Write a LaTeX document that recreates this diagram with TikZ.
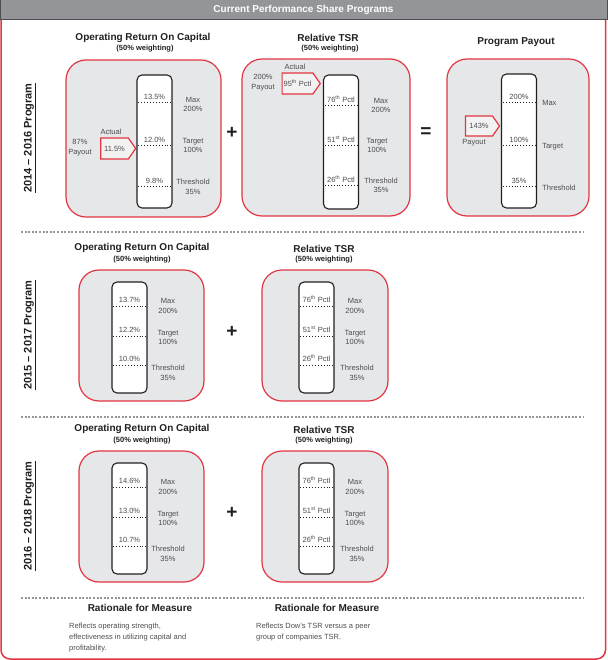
\documentclass[tikz,border=0pt]{standalone}
\usepackage{fontspec}
\setmainfont{Liberation Sans}
\usepackage{xcolor}
\usepackage{tikz}
\usetikzlibrary{calc,shapes.symbols,positioning}
\definecolor{DowRed}{RGB}{226, 54, 66}
\definecolor{PanelGray}{RGB}{230, 231, 232}
\definecolor{TagFill}{RGB}{242, 242, 243}
\definecolor{HeadGray}{RGB}{147, 149, 152}
\definecolor{HeadEdge}{RGB}{77, 77, 79}
\definecolor{InkBlack}{RGB}{35, 31, 32}
\definecolor{TextGray}{RGB}{77, 77, 79}
\definecolor{DotGray}{RGB}{150, 150, 153}

\begin{document}
\begin{tikzpicture}[x=1pt, y=-1pt,
    headbar/.style={draw=HeadEdge, fill=HeadGray, line width=1pt, minimum width=607pt, minimum height=20pt, text=white, font=\bfseries\fontsize{10}{12}\selectfont},
    panel/.style={draw=DowRed, fill=PanelGray, line width=1.2pt, rounded corners=20pt},
    gauge/.style={draw=InkBlack, fill=white, line width=1.1pt, rounded corners=5pt, minimum width=35pt},
    cutline/.style={InkBlack, line width=0.9pt, dotted, shorten <=2pt, shorten >=2pt},
    val/.style={text=TextGray, font=\fontsize{7.5}{9}\selectfont, inner sep=0pt},
    lbl/.style={text=TextGray, font=\fontsize{7.5}{9.5}\selectfont, align=center, inner sep=0pt},
    heading/.style={text=InkBlack, font=\bfseries\fontsize{10}{12}\selectfont, inner sep=0pt},
    weighting/.style={text=InkBlack, font=\bfseries\fontsize{7.5}{9}\selectfont, inner sep=0pt},
    actualtag/.style={signal, signal to=east, signal pointer angle=110, draw=DowRed, fill=TagFill, line width=1.2pt, minimum height=21pt, inner xsep=1.5pt, inner ysep=1pt, text=TextGray, font=\fontsize{7.5}{9}\selectfont},
    yearlbl/.style={rotate=90, text=InkBlack, font=\bfseries\fontsize{11}{12}\selectfont, inner sep=0pt},
    opsign/.style={text=InkBlack, font=\bfseries\fontsize{19}{19}\selectfont, inner sep=0pt},
    divider/.style={DotGray, line width=2pt, dash pattern=on 2pt off 1.6pt},
    bodytext/.style={text=TextGray, font=\fontsize{7.5}{11}\selectfont, align=left, inner sep=0pt}]
    \useasboundingbox (0,0) rectangle (607,660);
    % frame and header
    \draw[DowRed, line width=1.5pt, rounded corners=9pt] (1,20) -- (1,659) -- (605.5,659) -- (605.5,20);
    \node[headbar] (head) at (303.5,10) {Current Performance Share Programs};

    % 2014 - 2016 program
    \node[yearlbl] (yr1) at (30,138) {\underline{2014 -- 2016 Program}};
    \node[heading] (orchead1) at (143,38) {Operating Return On Capital};
    \node[weighting] (orcwt1) at (145,49) {(50\% weighting)};
    \node[panel, minimum width=155pt, minimum height=157pt] (orc1) at (143.5,138.5) {};
    \node[gauge, minimum height=133pt] (orcbar1) at (154.5,141.5) {};
    \foreach \d/\v [count=\i] in {28/13.5, 71/12.0, 112/9.8} {
        \draw[cutline] ($(orcbar1.north west)+(0,\d)$) -- ($(orcbar1.north east)+(0,\d)$);
        \node[val] (orcv1-\i) at ($(orcbar1.north)+(0,\d-6)$) {\v\%};
    }
    \node[lbl] (orcmax1) at (193,104.5) {Max\\200\%};
    \node[lbl] (orctgt1) at (193,145.5) {Target\\100\%};
    \node[lbl] (orcthr1) at (193,187) {Threshold\\35\%};
    \node[actualtag, minimum width=35pt] (orcact1) at (114.5,148.5) {11.5\%};
    \node[val] (orcactlbl1) at (111,132) {Actual};
    \node[lbl] (orcpay1) at (80,147.5) {87\%\\Payout};
    \node[opsign] (plus1) at (232,133) {+};

    \node[heading] (tsrhead1) at (328,38) {Relative TSR};
    \node[weighting] (tsrwt1) at (330,49) {(50\% weighting)};
    \node[panel, minimum width=168pt, minimum height=157pt] (tsr1) at (326,137.5) {};
    \node[gauge, minimum height=134pt] (tsrbar1) at (341,142) {};
    \foreach \d/\v/\s [count=\i] in {31/76/th, 71/51/st, 111/26/th} {
        \draw[cutline] ($(tsrbar1.north west)+(0,\d)$) -- ($(tsrbar1.north east)+(0,\d)$);
        \node[val] (tsrv1-\i) at ($(tsrbar1.north)+(0,\d-6)$) {\v\textsuperscript{\s} Pctl};
    }
    \node[lbl] (tsrmax1) at (381,105.5) {Max\\200\%};
    \node[lbl] (tsrtgt1) at (377,145.5) {Target\\100\%};
    \node[lbl] (tsrthr1) at (381,185.5) {Threshold\\35\%};
    \node[actualtag, minimum width=38pt] (tsract1) at (297.5,83.5) {95\textsuperscript{th} Pctl};
    \node[val] (tsractlbl1) at (295,67) {Actual};
    \node[lbl] (tsrpay1) at (263,82.5) {200\%\\Payout};
    \node[opsign] (equals1) at (426,133) {=};

    \node[heading] (payhead) at (516,42) {Program Payout};
    \node[panel, minimum width=142pt, minimum height=157pt] (pay) at (518,137.5) {};
    \node[gauge, minimum height=134pt] (paybar) at (519,141) {};
    \foreach \d/\v/\t [count=\i] in {29/200/Max, 72/100/Target, 113/35/Threshold} {
        \draw[cutline] ($(paybar.north west)+(0,\d)$) -- ($(paybar.north east)+(0,\d)$);
        \node[val] (payv-\i) at ($(paybar.north)+(0,\d-6)$) {\v\%};
        \node[lbl, anchor=west] (payl-\i) at ($(paybar.north east)+(5,\d+1)$) {\t};
    }
    \node[actualtag, minimum width=34pt, minimum height=20pt] (payact) at (479,126) {143\%};
    \node[val] (payactlbl) at (474,143) {Payout};

    % 2015 - 2017 and 2016 - 2018 programs
    \draw[divider] (21,232) -- (584,232);
    \draw[divider] (21,417) -- (584,417);
    \foreach \oy/\yrs/\va/\vb/\vc [count=\r from 2] in {0/2015 -- 2017/13.7/12.2/10.0, 181/2016 -- 2018/14.6/13.0/10.7} {
        \node[yearlbl] (yr\r) at (30,335+\oy) {\underline{\yrs\ Program}};
        \node[heading] (orchead\r) at (142,248+\oy) {Operating Return On Capital};
        \node[weighting] (orcwt\r) at (142,260+\oy) {(50\% weighting)};
        \node[panel, minimum width=125pt, minimum height=131pt] (orc\r) at (141.5,335.5+\oy) {};
        \node[gauge, minimum height=111pt] (orcbar\r) at (129.5,337.5+\oy) {};
        \foreach \d/\v [count=\i] in {25/\va, 55/\vb, 84/\vc} {
            \draw[cutline] ($(orcbar\r.north west)+(0,\d)$) -- ($(orcbar\r.north east)+(0,\d)$);
            \node[val] (orcv\r-\i) at ($(orcbar\r.north)+(0,\d-7)$) {\v\%};
        }
        \node[lbl] (orcmax\r) at (168,306+\oy) {Max\\200\%};
        \node[lbl] (orctgt\r) at (168,337.5+\oy) {Target\\100\%};
        \node[lbl] (orcthr\r) at (168,373+\oy) {Threshold\\35\%};
        \node[opsign] (plus\r) at (232,332+\oy) {+};

        \node[heading] (tsrhead\r) at (324,249+\oy) {Relative TSR};
        \node[weighting] (tsrwt\r) at (324,260+\oy) {(50\% weighting)};
        \node[panel, minimum width=126pt, minimum height=131pt] (tsr\r) at (325,335.5+\oy) {};
        \node[gauge, minimum height=111pt] (tsrbar\r) at (316.5,337.5+\oy) {};
        \foreach \d/\v/\s [count=\i] in {25/76/th, 55/51/st, 84/26/th} {
            \draw[cutline] ($(tsrbar\r.north west)+(0,\d)$) -- ($(tsrbar\r.north east)+(0,\d)$);
            \node[val] (tsrv\r-\i) at ($(tsrbar\r.north)+(0,\d-7)$) {\v\textsuperscript{\s} Pctl};
        }
        \node[lbl] (tsrmax\r) at (355,306+\oy) {Max\\200\%};
        \node[lbl] (tsrtgt\r) at (355,337.5+\oy) {Target\\100\%};
        \node[lbl] (tsrthr\r) at (357,373+\oy) {Threshold\\35\%};
    }

    % rationale
    \draw[divider] (21,598) -- (584,598);
    \node[heading] (orcwhy) at (140,608) {Rationale for Measure};
    \node[heading] (tsrwhy) at (327,608) {Rationale for Measure};
    \node[bodytext, anchor=north west] (orcwhytxt) at (69,623) {Reflects operating strength,\\effectiveness in utilizing capital and\\profitability.};
    \node[bodytext, anchor=north west] (tsrwhytxt) at (256,623) {Reflects Dow's TSR versus a peer\\group of companies TSR.};
\end{tikzpicture}
\end{document}
